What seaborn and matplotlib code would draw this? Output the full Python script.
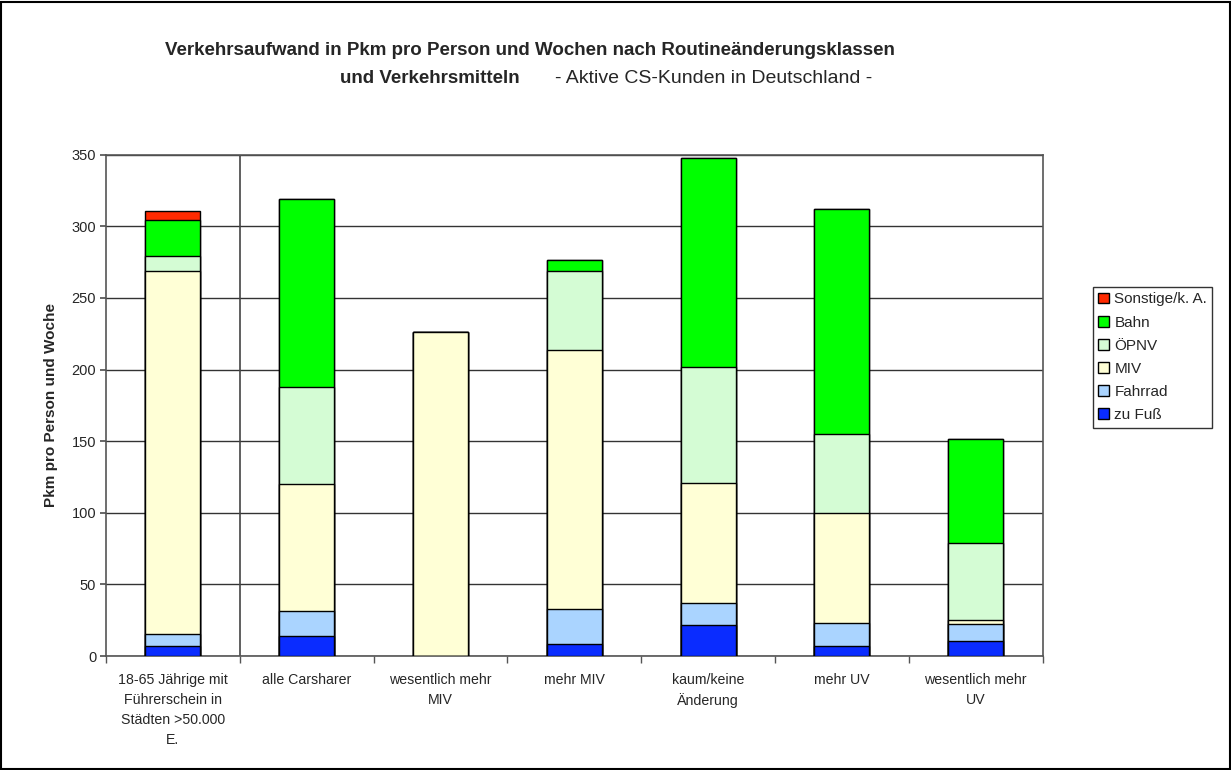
import matplotlib
matplotlib.use("Agg")
import matplotlib.pyplot as plt
import seaborn as sns
import numpy as np
import pandas as pd
from matplotlib.patches import Patch, Rectangle

categories = ["18-65 Jährige mit\nFührerschein in\nStädten >50.000\nE.",
              "alle Carsharer", "wesentlich mehr\nMIV", "mehr MIV",
              "kaum/keine\nÄnderung", "mehr UV", "wesentlich mehr\nUV"]
zu_fuss  = [7.1, 14.3, 0, 8.3, 21.4, 7.1, 10.2]
fahrrad  = [8.4, 17.4, 0, 24.6, 15.5, 16.0, 12.4]
miv      = [253.5, 88.1, 226.2, 180.7, 84.1, 76.7, 2.9]
oepnv    = [10.0, 68.3, 0, 55.4, 80.9, 55.4, 53.1]
bahn     = [25.8, 131.0, 0, 7.2, 145.5, 156.7, 72.6]
sonstige = [6.0, 0, 0, 0, 0, 0, 0]

series = ["zu Fuß", "Fahrrad", "MIV", "ÖPNV", "Bahn", "Sonstige/k. A."]
values = [zu_fuss, fahrrad, miv, oepnv, bahn, sonstige]
colors = ["#0a2cff", "#aad4ff", "#ffffd6", "#d4fcd4", "#00ff00", "#ff2a00"]

sns.set_theme(style="white")
plt.rcParams['font.family'] = ['Liberation Sans', 'DejaVu Sans']

fig = plt.figure(figsize=(12.31, 7.70), dpi=100)
ax = fig.add_axes([0.086, 0.148, 0.761, 0.651])

cum = np.cumsum(np.array(values), axis=0)
# draw cumulative totals from top layer down
for i in range(len(series) - 1, -1, -1):
    df = pd.DataFrame({"cat": categories, "val": cum[i]})
    heights = np.array(values[i])
    if heights.sum() == 0:
        continue
    sns.barplot(data=df, x="cat", y="val", color=colors[i], saturation=1,
                width=0.41, edgecolor="black", linewidth=1.0, ax=ax, zorder=3)

ax.set_ylim(0, 350)
ax.set_xlim(-0.5, len(categories) - 0.5)
ax.set_yticks(np.arange(0, 351, 50))
ax.yaxis.grid(True, color="#333333", linewidth=1.0, zorder=0)
ax.set_axisbelow(True)
ax.tick_params(axis='y', labelsize=10.5, length=4, left=True, color="#555555", pad=3)
ax.tick_params(axis='x', which='major', labelsize=10.2, length=0, pad=12)
for lbl in ax.get_xticklabels():
    lbl.set_linespacing(1.55)
ax.set_xticks(np.arange(-0.5, len(categories), 1.0), minor=True)
ax.tick_params(axis='x', which='minor', length=5, bottom=True, color="#555555")
ax.set_xlabel("")
ax.set_ylabel("Pkm pro Person und Woche", fontsize=11, fontweight='bold', labelpad=10)
for s in ax.spines.values():
    s.set_color("#555555")
    s.set_linewidth(1.2)
ax.axvline(0.5, color="#444444", linewidth=1.2, zorder=2)

handles = [Patch(facecolor=colors[i], edgecolor="black", label=series[i])
           for i in range(len(series) - 1, -1, -1)]
leg = fig.legend(handles=handles, loc="upper left",
                 bbox_to_anchor=(1093 / 1231, 1 - 287 / 770),
                 frameon=True, fancybox=False, fontsize=11, handlelength=0.7,
                 handleheight=0.7, handletextpad=0.35, labelspacing=0.6,
                 borderpad=0.35, borderaxespad=0)
leg.get_frame().set_edgecolor("black")
leg.get_frame().set_linewidth(1.0)

fig.text(0.4306, 0.935, "Verkehrsaufwand in Pkm pro Person und Wochen nach Routineänderungsklassen",
         ha="center", va="center", fontsize=13.5, fontweight="bold")
fig.text(0.4225, 0.898, "und Verkehrsmitteln", ha="right", va="center",
         fontsize=13.5, fontweight="bold")
fig.text(0.451, 0.898, "- Aktive CS-Kunden in Deutschland -", ha="left", va="center",
         fontsize=14)

fig.patches.append(Rectangle((0.001, 0.001), 0.998, 0.997, transform=fig.transFigure,
                             fill=False, edgecolor="black", linewidth=1.5))

fig.savefig("out.png", dpi=100)
